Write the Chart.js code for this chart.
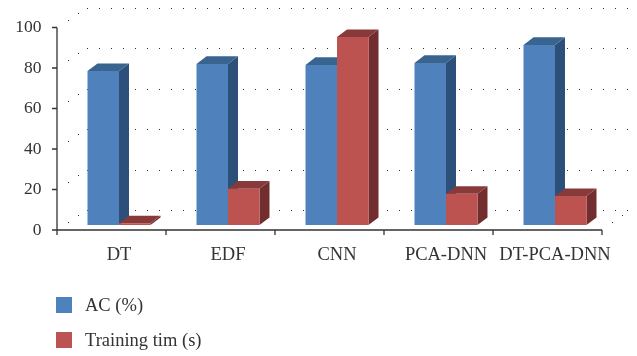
<!DOCTYPE html>
<html>
<head>
<meta charset="utf-8">
<title>AC and training time by model</title>
<script src="https://cdn.jsdelivr.net/npm/chart.js@4/dist/chart.umd.min.js"></script>
<style>
  html, body { margin: 0; padding: 0; background: #fff; }
  #wrap { position: relative; width: 637px; height: 356px; overflow: hidden; }
  #legend { position: absolute; left: 56px; top: 297px; font: 18.5px "Liberation Serif", serif; color: #333; }
  .legend-item { display: flex; align-items: center; height: 16px; margin-bottom: 19px; }
  .legend-swatch { width: 16px; height: 16px; margin-right: 13px; }
</style>
</head>
<body>
<div id="wrap">
  <canvas id="chart" width="637" height="356"></canvas>
  <div id="legend"></div>
</div>
<script>
const categories = ['DT', 'EDF', 'CNN', 'PCA-DNN', 'DT-PCA-DNN'];
const acValues = [78.5, 82, 81.5, 82.5, 91.4];
const trainingValues = [3.3, 20.4, 95.3, 17.9, 16.8];
const yTicks = [0, 20, 40, 60, 80, 100];

// bars stand a little above the axis zero, on the floor of the 3D box
const floorValue = 2.47;

const inkColor = '#333';
const depth = { x: 10, y: 7.6 };
const axisShift = 8;   // the axis frame sits left of the category bands

const acColors = { front: '#4f81bd', top: '#39648f', side: '#2c5079' };
const trainingColors = { front: '#bc5350', top: '#883a3a', side: '#722e2f' };

function poly(ctx, color, pts){
  ctx.fillStyle = color;
  ctx.beginPath();
  pts.forEach((p, i) => i ? ctx.lineTo(p[0], p[1]) : ctx.moveTo(p[0], p[1]));
  ctx.closePath();
  ctx.fill();
}

function dot(ctx, x, y){
  ctx.fillRect(Math.round(x), Math.round(y), 1, 1);
}

// Dotted back wall and side wall of the box
const backWall = {
  id: 'backWall',
  beforeDatasetsDraw(chart){
    const { ctx, chartArea, scales } = chart;
    const left = chartArea.left - axisShift;
    ctx.save();
    ctx.fillStyle = '#333';
    yTicks.forEach(t => {
      const y = scales.y.getPixelForValue(t);
      dot(ctx, left + 11, y - 8);
      dot(ctx, left + 21, y - 15);
      for(let x = left + 30; x < 632; x += 12) dot(ctx, x, y - 20);
    });
    const y0 = scales.y.getPixelForValue(0);
    dot(ctx, chartArea.right - axisShift + 10, y0 - 8);
    dot(ctx, chartArea.right - axisShift + 20, y0 - 15);
    ctx.restore();
  }
};

// Side and top faces, drawn before the flat fronts so a front always covers them
const barDepth = {
  id: 'barDepth',
  beforeDatasetsDraw(chart){
    const { ctx } = chart;
    ctx.save();
    chart.data.datasets.forEach((ds, i) => {
      chart.getDatasetMeta(i).data.forEach(bar => {
        const l = bar.x - bar.width / 2, r = bar.x + bar.width / 2;
        poly(ctx, ds.faces.side, [[r, bar.y], [r + depth.x, bar.y - depth.y], [r + depth.x, bar.base - depth.y], [r, bar.base]]);
        poly(ctx, ds.faces.top, [[l, bar.y], [l + depth.x, bar.y - depth.y], [r + depth.x, bar.y - depth.y], [r, bar.y]]);
      });
    });
    ctx.restore();
  }
};

// Axis lines and tick marks
const axisFrame = {
  id: 'axisFrame',
  afterDraw(chart){
    const { ctx, chartArea, scales } = chart;
    const left = chartArea.left - axisShift + 0.5;
    const bottom = scales.y.getPixelForValue(0);
    const band = chartArea.width / categories.length;
    ctx.save();
    ctx.strokeStyle = inkColor;
    ctx.lineWidth = 1.3;
    ctx.beginPath();
    ctx.moveTo(left, scales.y.getPixelForValue(100));
    ctx.lineTo(left, bottom);
    ctx.moveTo(left, bottom);
    ctx.lineTo(left + band * categories.length, bottom);
    yTicks.forEach(t => {
      const y = scales.y.getPixelForValue(t);
      ctx.moveTo(left - 5, y);
      ctx.lineTo(left, y);
    });
    for(let i = 0; i <= categories.length; i++){
      ctx.moveTo(left + band * i, bottom);
      ctx.lineTo(left + band * i, bottom + 5);
    }
    ctx.stroke();
    ctx.restore();
  }
};

const chart = new Chart(document.getElementById('chart'), {
  type: 'bar',
  data: {
    labels: categories,
    datasets: [
      { label: 'AC (%)', data: acValues, base: floorValue, backgroundColor: acColors.front, faces: acColors },
      { label: 'Training tim (s)', data: trainingValues, base: floorValue, backgroundColor: trainingColors.front, faces: trainingColors }
    ]
  },
  options: {
    responsive: false,
    animation: false,
    layout: { padding: { top: 27.5, right: 27.5, left: 0, bottom: 0 } },
    datasets: { bar: { categoryPercentage: 0.578, barPercentage: 1 } },
    plugins: { legend: { display: false }, tooltip: { enabled: false } },
    scales: {
      x: {
        grid: { display: false },
        border: { display: false },
        afterFit(scale){ scale.height = 126; scale.paddingLeft = 0; scale.paddingRight = 0; },
        ticks: { color: inkColor, padding: 6, maxRotation: 0, autoSkip: false, font: { family: '"Liberation Serif", serif', size: 18.5 } }
      },
      y: {
        min: 0,
        max: 100,
        grid: { display: false },
        border: { display: false },
        afterBuildTicks(scale){ scale.ticks = yTicks.map(v => ({ value: v })); },
        afterFit(scale){ scale.width = 64.5; scale.paddingTop = 0; scale.paddingBottom = 0; },
        ticks: { color: inkColor, padding: 15, font: { family: '"Liberation Serif", serif', size: 17.5 } }
      }
    }
  },
  plugins: [backWall, barDepth, axisFrame]
});

// Stacked legend under the plot, built from the datasets
const legendEl = document.getElementById('legend');
chart.data.datasets.forEach(ds => {
  const item = document.createElement('div');
  item.className = 'legend-item';
  const swatch = document.createElement('span');
  swatch.className = 'legend-swatch';
  swatch.style.background = ds.backgroundColor;
  const text = document.createElement('span');
  text.textContent = ds.label;
  item.append(swatch, text);
  legendEl.appendChild(item);
});
</script>
</body>
</html>
